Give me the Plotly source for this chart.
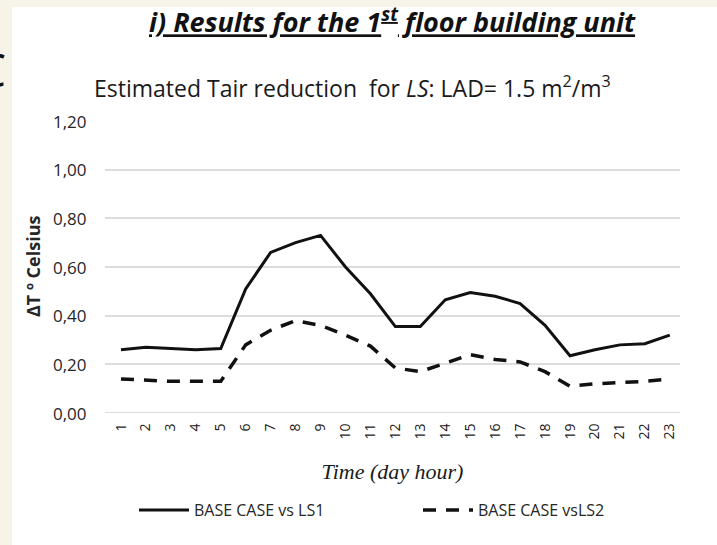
import plotly.graph_objects as go

hours = [str(h) for h in range(1, 24)]
ls1 = [0.26, 0.27, 0.265, 0.26, 0.265, 0.51, 0.66, 0.70, 0.73, 0.60, 0.49, 0.355, 0.355,
       0.465, 0.495, 0.48, 0.45, 0.36, 0.235, 0.26, 0.28, 0.285, 0.32]
ls2 = [0.14, 0.135, 0.13, 0.13, 0.13, 0.28, 0.34, 0.38, 0.36, 0.32, 0.275, 0.185, 0.17,
       0.205, 0.24, 0.22, 0.21, 0.17, 0.11, 0.12, 0.125, 0.13, 0.14]
names = ["BASE CASE vs LS1", "BASE CASE vsLS2"]
y_ticks = [0, 0.2, 0.4, 0.6, 0.8, 1.0, 1.2]
y_tick_labels = [f"{v:.2f}".replace(".", ",") for v in y_ticks]

W, H = 717, 545
L, R, T, B = 105, 37, 121, 132
pw, ph = W - L - R, H - T - B

def px(x):
    return (x - L) / pw

def py(y):
    return (H - B - y) / ph

fig = go.Figure()
fig.add_trace(go.Scatter(x=hours, y=ls1, mode="lines", name=names[0],
                         line=dict(color="#111111", width=3)))
fig.add_trace(go.Scatter(x=hours, y=ls2, mode="lines", name=names[1],
                         line=dict(color="#111111", width=3.5, dash="13px,10px")))

annotations = [
    dict(text="<b><i><u>i) Results for the 1<sup>st</sup> floor building unit</u></i></b>",
         xref="paper", yref="paper", x=px(392), y=py(20), showarrow=False,
         xanchor="center", yanchor="middle",
         font=dict(size=27, color="#111111", family="Open Sans")),
    dict(text="Estimated Tair reduction  for <i>LS</i>: LAD= 1.5 m<sup>2</sup>/m<sup>3</sup>",
         xref="paper", yref="paper", x=px(352), y=py(87), showarrow=False,
         xanchor="center", yanchor="middle",
         font=dict(size=23, color="#1a1a1a", family="Open Sans")),
    dict(text="<b>ΔT º Celsius</b>", xref="paper", yref="paper", x=px(33), y=py(267),
         showarrow=False, xanchor="center", yanchor="middle", textangle=-90,
         font=dict(size=18, color="#262626", family="Open Sans")),
    dict(text="C", xref="paper", yref="paper", x=px(8), y=py(69), showarrow=False,
         xanchor="right", yanchor="middle",
         font=dict(size=46, color="#111111", family="Open Sans")),
]
for v, lab in zip(y_ticks, y_tick_labels):
    annotations.append(dict(text=lab, xref="paper", yref="y", x=px(89), y=v,
                            showarrow=False, xanchor="right", yanchor="middle",
                            font=dict(size=17, color="#262626", family="Open Sans")))

fig.update_layout(
    width=W, height=H,
    margin=dict(l=L, r=R, t=T, b=B, autoexpand=False),
    paper_bgcolor="#f6f4e8",
    plot_bgcolor="white",
    separators=",.",
    font=dict(family="Open Sans, sans-serif", color="#262626"),
    showlegend=True,
    legend=dict(orientation="h", xref="container", x=418 / W, xanchor="center",
                yref="container", y=(H - 510) / H, yanchor="middle",
                font=dict(size=16, color="#262626", family="Open Sans"),
                bgcolor="rgba(0,0,0,0)", itemwidth=50, entrywidth=219),
    shapes=[dict(type="rect", xref="paper", yref="paper", layer="below",
                 x0=px(12), x1=px(W + 5), y0=py(H + 5), y1=py(7),
                 fillcolor="white", line=dict(width=0))],
    annotations=annotations,
)

fig.update_xaxes(
    type="category", range=[-0.64, 22.41], automargin=False,
    tickangle=-90, tickfont=dict(size=14, color="#1a1a1a", family="Open Sans"),
    ticks="outside", ticklen=4, tickcolor="rgba(0,0,0,0)",
    showgrid=False, showline=False, zeroline=False,
    title=dict(text="<i>Time (day hour)</i>", standoff=24,
               font=dict(size=22, family="Liberation Serif", color="#1a1a1a")),
)
fig.update_yaxes(
    range=[0, 1.2], tickvals=y_ticks, automargin=False, showticklabels=False,
    showgrid=True, gridcolor="#dcdcdc", gridwidth=1.5,
    zeroline=False, showline=False, ticks="",
)
fig.add_hline(y=0, line=dict(color="#d0d0d0", width=1.5), layer="below")

fig.write_html("out.html", config={"displayModeBar": False},
               post_script="document.body.style.margin='0';")
